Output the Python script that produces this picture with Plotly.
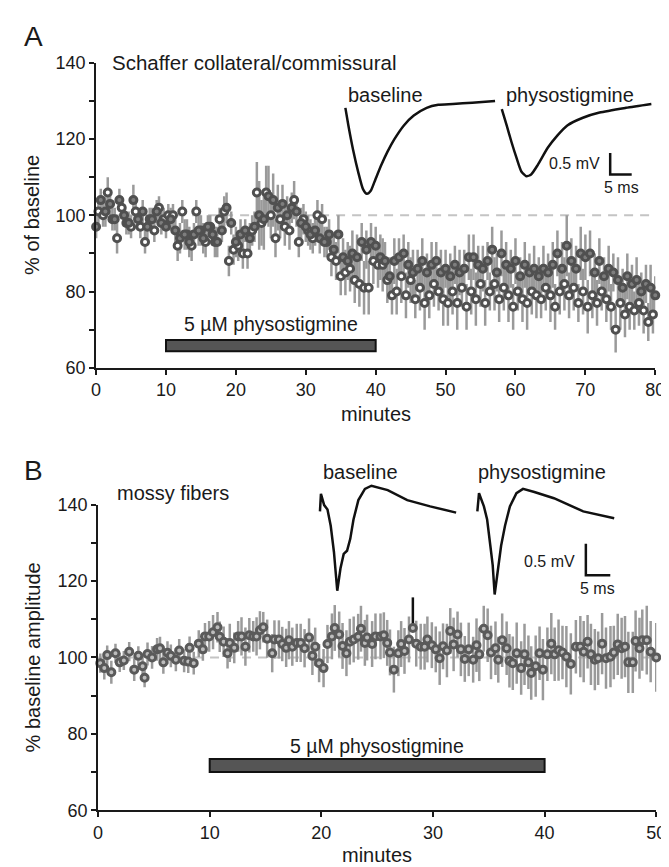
import plotly.graph_objects as go

W, H = 669, 867
FONT = "Liberation Sans, Arial, Helvetica, sans-serif"
TXT = "#1a1a1a"

# ---------------- Panel A data (Schaffer collateral) ----------------
A_STEP = 2 / 3          # minutes between samples of each interleaved series
A_FILLED = [97, 104, 101, 103, 99, 104, 100, 98, 104, 99,
            101, 97, 99, 101, 98, 97, 99, 96, 94, 95,
            93, 95, 96, 94, 97, 95, 93, 96, 102, 98,
            93, 95, 96, 94, 97, 100, 99, 105, 104, 102,
            103, 100, 102, 101, 98, 97, 95, 96, 94, 93,
            95, 91, 95, 89, 88, 90, 89, 93, 91, 93,
            92, 89, 88, 84, 88, 89, 90, 87, 85, 86,
            88, 85, 87, 88, 85, 86, 84, 87, 85, 86,
            89, 89, 87, 86, 88, 91, 85, 90, 87, 86,
            88, 84, 87, 85, 86, 84, 86, 85, 87, 90,
            86, 92, 88, 86, 90, 89, 90, 85, 88, 84,
            86, 85, 83, 81, 84, 82, 83, 80, 82, 81,
            79]
A_FILLED_ERR = [3, 3, 4, 3, 3, 3, 3, 3, 4, 3,
                3, 3, 3, 3, 3, 3, 3, 4, 4, 4,
                4, 3, 4, 4, 3, 3, 4, 3, 4, 3,
                4, 4, 3, 4, 4, 9, 8, 8, 7, 6,
                5, 5, 4, 4, 4, 4, 4, 4, 4, 4,
                4, 4, 5, 5, 5, 6, 6, 5, 5, 5,
                5, 6, 5, 5, 6, 5, 5, 6, 6, 5,
                6, 5, 6, 5, 6, 5, 6, 5, 6, 5,
                6, 6, 5, 6, 5, 6, 5, 6, 6, 5,
                6, 5, 6, 5, 6, 5, 6, 5, 6, 6,
                7, 8, 6, 6, 7, 6, 6, 5, 6, 5,
                6, 5, 6, 5, 6, 5, 6, 5, 5, 6,
                5]
A_OPEN = [101, 100, 106, 99, 94, 102, 98, 97, 101, 97,
          93, 99, 96, 102, 99, 100, 100, 92, 101, 95,
          92, 101, 96, 93, 97, 93, 99, 101, 88, 91,
          92, 90, 90, 96, 106, 98, 106, 100, 94, 99,
          97, 96, 104, 93, 99, 96, 94, 100, 99, 93,
          89, 88, 84, 85, 86, 83, 82, 81, 81, 88,
          87, 87, 83, 79, 80, 84, 79, 83, 78, 81,
          77, 79, 82, 80, 78, 77, 80, 77, 81, 76,
          80, 78, 82, 77, 80, 82, 78, 81, 79, 76,
          80, 78, 77, 80, 79, 78, 81, 79, 76, 80,
          82, 79, 81, 77, 80, 76, 79, 77, 80, 78,
          76, 70, 77, 74, 76, 75, 77, 75, 72, 74]
A_OPEN_ERR = [3, 3, 4, 3, 4, 3, 3, 3, 3, 3,
              3, 3, 3, 3, 3, 3, 3, 4, 3, 4,
              4, 3, 4, 4, 3, 4, 3, 4, 4, 4,
              4, 4, 4, 4, 8, 6, 7, 6, 5, 5,
              5, 5, 5, 4, 4, 4, 4, 4, 4, 4,
              5, 5, 5, 6, 6, 6, 6, 7, 7, 6,
              6, 7, 6, 5, 6, 7, 6, 6, 5, 6,
              7, 6, 6, 5, 7, 6, 6, 7, 5, 6,
              6, 7, 6, 6, 5, 7, 6, 6, 7, 6,
              5, 6, 7, 6, 6, 5, 6, 7, 6, 6,
              7, 6, 6, 5, 6, 7, 6, 6, 5, 6,
              6, 6, 7, 6, 6, 5, 6, 6, 5, 5]
A_FILLED_T = [round(i * A_STEP, 3) for i in range(len(A_FILLED))]
A_OPEN_T = [round(A_STEP / 2 + i * A_STEP, 3) for i in range(len(A_OPEN))]

# ---------------- Panel B data (mossy fibers) ----------------
B_T = [0.2, 0.56, 0.82, 1.19, 1.56, 1.94, 2.31, 2.79, 3.24, 3.61,
       3.99, 4.17, 4.43, 4.84, 5.29, 5.55, 5.85, 6.22, 6.52, 6.97,
       7.27, 7.71, 8.08, 8.2, 8.57, 9.02, 9.39, 9.58, 9.95, 10.3,
       10.7, 10.9, 11.25, 11.6, 11.8, 12.2, 12.55, 12.85, 13.2, 13.55,
       13.9, 14.2, 14.5, 14.8, 15.15, 15.6, 15.8, 16.2, 16.5, 16.85,
       17.1, 17.4, 17.8, 18.15, 18.5, 18.9, 19.2, 19.45, 19.8, 20.2,
       20.55, 20.95, 21.2, 21.6, 21.9, 22.25, 22.55, 22.9, 23.3, 23.55,
       23.9, 24.1, 24.55, 24.85, 25.3, 25.6, 25.9, 26.15, 26.5, 26.9,
       27.15, 27.45, 27.85, 28.2, 28.5, 28.9, 29.25, 29.5, 29.9, 30.25,
       30.6, 30.9, 31.25, 31.55, 31.85, 32.2, 32.5, 32.85, 33.2, 33.6,
       33.9, 34.15, 34.55, 34.9, 35.2, 35.6, 35.85, 36.2, 36.6, 36.85,
       37.15, 37.5, 37.9, 38.2, 38.55, 38.8, 39.2, 39.55, 39.85, 40.25,
       40.6, 40.9, 41.25, 41.6, 41.95, 42.35, 42.8, 43.2, 43.5, 43.85,
       44.15, 44.5, 44.8, 45.15, 45.5, 45.9, 46.2, 46.55, 46.9, 47.2,
       47.5, 47.9, 48.15, 48.5, 48.75, 49.15, 49.5, 50.0]
B_V = [98.5, 97.2, 100.6, 96.1, 101.1, 98.7, 99.2, 101.5, 96.8, 100.4,
       97.7, 94.7, 100.9, 100.0, 102.1, 102.4, 98.7, 101.2, 100.4, 99.4,
       101.8, 99.1, 98.9, 102.5, 98.5, 103.6, 102.1, 105.5, 105.5, 106.6,
       107.9, 105.4, 104.1, 101.1, 103.8, 102.5, 105.5, 105.5, 102.8, 105.8,
       105.5, 105.5, 107.1, 107.9, 104.9, 101.1, 104.7, 104.7, 103.5, 102.5,
       104.5, 102.8, 103.8, 103.8, 102.4, 105.2, 100.4, 102.8, 98.5, 97.2,
       103.5, 105.5, 107.7, 106.0, 103.0, 101.1, 104.1, 104.7, 105.4, 107.5,
       103.8, 105.2, 103.5, 105.5, 105.5, 105.8, 103.8, 101.3, 96.8, 101.1,
       103.5, 101.7, 104.7, 107.7, 103.6, 102.8, 102.8, 104.7, 103.2, 102.1,
       99.8, 102.9, 101.8, 106.9, 103.4, 106.0, 102.1, 99.6, 102.1, 99.4,
       103.2, 100.8, 107.5, 105.8, 101.3, 102.4, 99.4, 104.5, 102.4, 99.1,
       98.5, 101.1, 97.2, 100.8, 98.7, 95.9, 97.7, 101.1, 96.8, 100.8,
       103.6, 100.8, 101.9, 101.3, 100.2, 98.3, 102.8, 102.8, 101.5, 104.1,
       100.8, 99.4, 99.8, 103.6, 99.8, 100.2, 101.3, 103.4, 102.4, 102.8,
       98.7, 98.7, 104.3, 102.4, 104.5, 104.5, 101.5, 100.0]
B_ERR = [2.5, 3, 2.5, 3, 2.5, 2.5, 2.5, 2.5, 3, 2.5,
         3, 2.5, 3, 3, 3, 3, 3, 3, 3, 3,
         3, 3, 3, 3, 3, 3.5, 3, 3.5, 4, 4.5,
         4, 4, 4, 4, 5, 4, 4, 5, 5, 4.5,
         4, 5, 5, 4, 5, 5, 5, 5, 4.5, 5,
         5, 5, 5, 5, 5, 5, 5, 5, 5, 5,
         5, 6, 6, 6, 6, 6, 6, 6, 6, 6,
         6, 6, 6, 6, 6, 6, 6, 6, 6, 6,
         6, 6, 6, 1, 6, 6, 6, 6, 6, 6,
         7, 6, 7, 6, 7, 6, 7, 6, 7, 6,
         7, 7, 6, 7, 7, 7, 6, 7, 7, 7,
         7, 8, 7, 8, 7, 7, 8, 7, 8, 7,
         8, 7, 8, 7, 8, 8, 7, 8, 8, 7,
         8, 8, 7, 8, 8, 8, 7, 8, 8, 8,
         8, 8, 8, 8, 8, 9, 8, 9]
B_BLACK_T = [28.2]
B_BLACK_V = [107.7]
B_BLACK_ERR = [8.0]

DRUG_A = (10, 40)
DRUG_B = (10, 40)
BASELINE = 100

# ---------------- Example sweeps (time ms, voltage mV) ----------------
A_BASE_MS = [0, 0.7, 1.8, 3.0, 4.1, 5.0, 5.9, 7.0, 8.4, 9.8, 11.4, 13.6, 15.9, 18.9, 21.6, 25.0, 29.5, 34.8]
A_BASE_MV = [-0.09, -0.5, -1.07, -1.59, -1.98, -2.09, -2.02, -1.75, -1.41, -1.11, -0.82, -0.5, -0.27, -0.09, -0.02, 0.0, 0.03, 0.07]
A_PHYS_MS = [0, 1.14, 2.27, 3.41, 4.55, 5.68, 6.82, 8.41, 10.68, 12.95, 15.23, 18.86, 22.73, 28.86, 34.77]
A_PHYS_MV = [-0.12, -0.5, -0.89, -1.25, -1.57, -1.68, -1.64, -1.41, -1.02, -0.73, -0.5, -0.32, -0.2, -0.09, 0.0]
B_BASE_MS = [0, 0.2, 0.86, 1.54, 2.2, 2.86, 3.54, 4.2, 4.86, 5.54, 6.2, 6.86, 7.86, 9.2, 10.54, 13.86, 17.86, 22.54, 27.86]
B_BASE_MV = [0, 0.28, 0.10, 0.03, -0.23, -0.65, -1.27, -0.91, -0.68, -0.63, -0.44, -0.13, 0.18, 0.36, 0.41, 0.34, 0.18, 0.08, -0.02]
B_PHYS_MS = [0, 0.34, 1.34, 2.0, 2.66, 3.14, 3.54, 4.2, 4.86, 5.66, 6.66, 8.0, 9.34, 11.66, 15.66, 21.66, 28.0]
B_PHYS_MV = [0, 0.29, 0.08, -0.13, -0.55, -0.86, -1.33, -0.91, -0.55, -0.23, 0.08, 0.29, 0.36, 0.31, 0.21, 0.0, -0.11]
SCALE_MS = 5
SCALE_MV = 0.5


def px(x):
    return x / W


def py(y):
    return 1 - y / H


fig = go.Figure()

ERR_COLOR = "#9a9a9a"
RING = "#505050"


def err_trace(x, y, e, xa, ya):
    return go.Scatter(x=x, y=y, mode="markers", marker=dict(size=1, opacity=0),
                      error_y=dict(type="data", array=e, color=ERR_COLOR, thickness=2.5, width=0),
                      xaxis=xa, yaxis=ya, showlegend=False, hoverinfo="skip", cliponaxis=False)


def mk_trace(x, y, fill, ring, xa, ya):
    return go.Scatter(x=x, y=y, mode="markers",
                      marker=dict(symbol="circle", size=7, color=fill, line=dict(color=ring, width=3)),
                      xaxis=xa, yaxis=ya, showlegend=False, cliponaxis=False)


# Panel A
fig.add_trace(err_trace(A_OPEN_T, A_OPEN, A_OPEN_ERR, "x", "y"))
fig.add_trace(err_trace(A_FILLED_T, A_FILLED, A_FILLED_ERR, "x", "y"))
fig.add_trace(mk_trace(A_OPEN_T, A_OPEN, "white", RING, "x", "y"))
fig.add_trace(mk_trace(A_FILLED_T, A_FILLED, "#7e7e7e", RING, "x", "y"))

# Panel B
fig.add_trace(err_trace(B_T, B_V, B_ERR, "x2", "y2"))
fig.add_trace(go.Scatter(x=B_BLACK_T, y=B_BLACK_V, mode="markers", marker=dict(size=1, opacity=0),
                         error_y=dict(type="data", symmetric=False, array=B_BLACK_ERR, arrayminus=[0],
                                      color="#111111", thickness=2.5, width=0),
                         xaxis="x2", yaxis="y2", showlegend=False, cliponaxis=False))
fig.add_trace(mk_trace(B_T, B_V, "#bdbdbd", "#5a5a5a", "x2", "y2"))

# Insets: (axis index, x0, x1, y0top, y1bottom, origin px x, origin px y, px/ms, px/mV)
INSETS = {
    3: (330, 500, 62, 195, 340, 88, 4.4, 44),
    4: (495, 668, 62, 195, 500, 88, 4.4, 44),
    5: (300, 470, 470, 600, 314, 505, 5.0, 64),
    6: (468, 668, 470, 600, 475, 505, 5.0, 64),
}
SWEEPS = {3: (A_BASE_MS, A_BASE_MV, "spline"), 4: (A_PHYS_MS, A_PHYS_MV, "spline"),
          5: (B_BASE_MS, B_BASE_MV, "linear"), 6: (B_PHYS_MS, B_PHYS_MV, "linear")}
for k, (ms, mv, shp) in SWEEPS.items():
    fig.add_trace(go.Scatter(x=ms, y=mv, mode="lines",
                             line=dict(color="#111111", width=2.5, shape=shp, smoothing=0.6 if shp == "spline" else None),
                             xaxis=f"x{k}", yaxis=f"y{k}", showlegend=False, hoverinfo="skip"))

# scale bars (in inset units)
SB = {4: (25.2, -1.64), 6: (22.2, -1.02)}
for k, (t0, v0) in SB.items():
    fig.add_trace(go.Scatter(x=[t0, t0, t0 + SCALE_MS], y=[v0 + SCALE_MV, v0, v0],
                             mode="lines", line=dict(color="#111111", width=2.5),
                             xaxis=f"x{k}", yaxis=f"y{k}", showlegend=False, hoverinfo="skip"))

axis_common = dict(showline=True, linecolor="#1a1a1a", linewidth=2, ticks="outside", ticklen=5,
                   tickwidth=2, tickcolor="#1a1a1a", showgrid=False, zeroline=False,
                   tickfont=dict(family=FONT, size=18, color=TXT))
minor = dict(dtick=10, ticks="outside", ticklen=5, tickwidth=2, tickcolor="#1a1a1a", showgrid=False)

layout = dict(
    width=W, height=H, margin=dict(l=0, r=0, t=0, b=0),
    paper_bgcolor="white", plot_bgcolor="rgba(0,0,0,0)",
    font=dict(family=FONT, color=TXT),
    xaxis=dict(domain=[px(85), px(657)], range=[0, 80], dtick=10, anchor="y", **axis_common),
    yaxis=dict(domain=[py(358), py(46)], range=[60, 140], dtick=20, minor=minor, anchor="x", **axis_common),
    xaxis2=dict(domain=[px(87), px(658)], range=[0, 50], dtick=10, anchor="y2", **axis_common),
    yaxis2=dict(domain=[py(811), py(498)], range=[60, 140], dtick=20, minor=minor, anchor="x2", **axis_common),
)
for k, (x0, x1, y0, y1, ox, oy, sx, sy) in INSETS.items():
    layout[f"xaxis{k}"] = dict(domain=[px(x0), px(x1)], range=[(x0 - ox) / sx, (x1 - ox) / sx],
                               anchor=f"y{k}", visible=False)
    layout[f"yaxis{k}"] = dict(domain=[py(y1), py(y0)], range=[-(y1 - oy) / sy, -(y0 - oy) / sy],
                               anchor=f"x{k}", visible=False)
fig.update_layout(**layout)

# baseline dashed lines and drug bars
for xa, ya, xmax in (("x", "y", 80), ("x2", "y2", 50)):
    fig.add_shape(type="line", xref=xa, yref=ya, x0=0, x1=xmax, y0=BASELINE, y1=BASELINE,
                  line=dict(color="#c4c4c4", width=2, dash="9px,7px"), layer="below")
fig.add_shape(type="rect", xref="x", yref="y", x0=DRUG_A[0], x1=DRUG_A[1], y0=64.3, y1=67.3,
              fillcolor="#555555", line=dict(color="#111111", width=2))
fig.add_shape(type="rect", xref="x2", yref="y2", x0=DRUG_B[0], x1=DRUG_B[1], y0=70.0, y1=73.4,
              fillcolor="#555555", line=dict(color="#111111", width=2))

ann = []


def T(text, x, y, size, xanchor="left", xref="paper", yref="paper", angle=0):
    if xref == "paper":
        x = px(x)
    if yref == "paper":
        y = py(y)
    ann.append(dict(text=text, x=x, y=y, xref=xref, yref=yref, xanchor=xanchor, yanchor="middle",
                    showarrow=False, textangle=angle, font=dict(family=FONT, size=size, color=TXT)))


T("A", 9, 19, 28)
T("B", 9, 463, 28)
T("Schaffer collateral/commissural", 99, 46, 20.5)
T("mossy fibers", 104, 486, 20)
T("baseline", 341, 79, 20)
T("physostigmine", 502, 79, 20)
T("baseline", 315, 465, 20)
T("physostigmine", 474, 465, 20)
T("0.5 mV", 603, 149, 16, "right")
T("5 ms", 622, 173, 16, "center")
T("0.5 mV", 577, 556, 16, "right")
T("5 ms", 598, 584, 16, "center")
T("5 \u00b5M physostigmine", 25, 71.5, 19.5, "center", "x", "y")
T("5 \u00b5M physostigmine", 25, 76.8, 19.5, "center", "x2", "y2")
T("minutes", 371, 405, 20, "center")
T("minutes", 372, 857, 20, "center")
T("% of baseline", 20, 202, 20, "center", angle=-90)
T("% baseline amplitude", 20, 655, 20, "center", angle=-90)
fig.update_layout(annotations=ann)

fig.write_html("out.html")
